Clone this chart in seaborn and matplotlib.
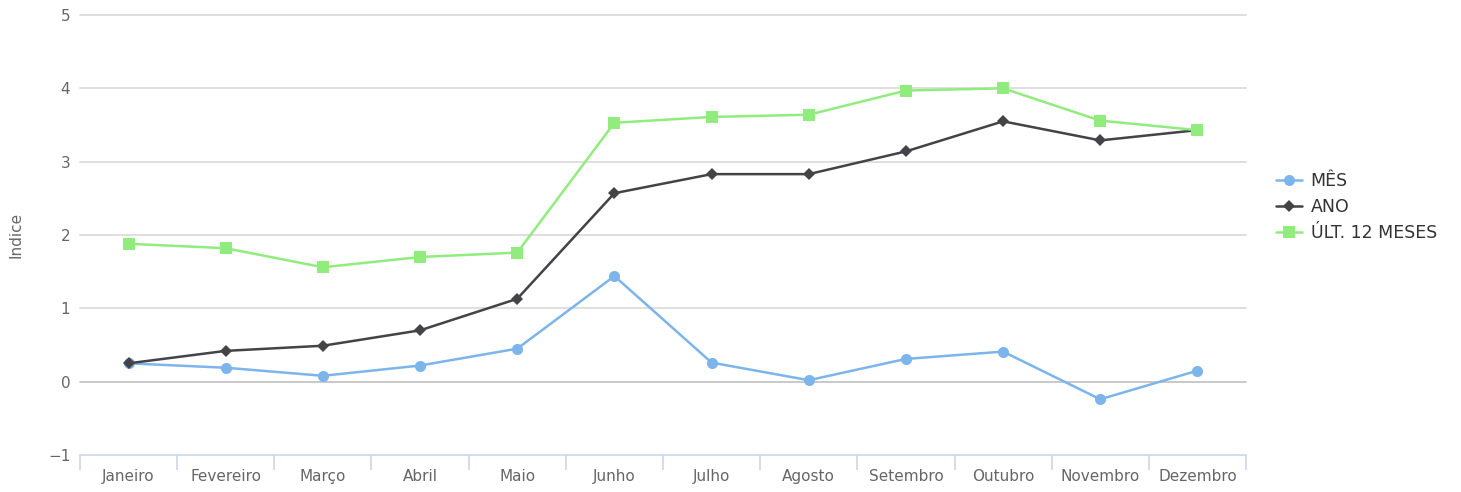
import matplotlib
matplotlib.use('Agg')
import matplotlib.pyplot as plt
import seaborn as sns
import numpy as np
import pandas as pd

# data
meses = ['Janeiro', 'Fevereiro', 'Março', 'Abril', 'Maio', 'Junho',
         'Julho', 'Agosto', 'Setembro', 'Outubro', 'Novembro', 'Dezembro']
mes = [0.25, 0.19, 0.08, 0.22, 0.45, 1.44, 0.26, 0.02, 0.31, 0.41, -0.24, 0.15]
ano = [0.25, 0.42, 0.49, 0.70, 1.13, 2.57, 2.83, 2.83, 3.14, 3.55, 3.29, 3.43]
ult12 = [1.88, 1.82, 1.56, 1.70, 1.76, 3.53, 3.61, 3.64, 3.97, 4.00, 3.56, 3.43]
series_names = ['MÊS', 'ANO', 'ÚLT. 12 MESES']
y_ticks = [-1, 0, 1, 2, 3, 4, 5]

sns.set_theme(style='white')
plt.rcParams['font.family'] = ['DejaVu Sans']

df = pd.DataFrame({
    'pos': np.tile(np.arange(len(meses)), 3),
    'mes': meses * 3,
    'valor': mes + ano + ult12,
    'serie': np.repeat(series_names, len(meses)),
})

fig = plt.figure(figsize=(14.61, 4.92), dpi=100)
ax = fig.add_axes([80 / 1461, 37 / 492, (1246 - 80) / 1461, (455 - 15) / 492])

# style per series (Highcharts look)
styles = {
    'MÊS': dict(color='#7cb5ec', marker='o', markersize=8),
    'ANO': dict(color='#434348', marker='D', markersize=6),
    'ÚLT. 12 MESES': dict(color='#90ed7d', marker='s', markersize=8.5),
}
for name in series_names:
    st = styles[name]
    sns.lineplot(data=df[df['serie'] == name], x='pos', y='valor', ax=ax,
                 color=st['color'], marker=st['marker'], markersize=st['markersize'],
                 markeredgewidth=0, linewidth=1.8, label=name, zorder=3)

# grid + zero line
ax.set_ylim(-1, 5)
ax.set_yticks(y_ticks)
ax.set_yticklabels(['\u22121' if t < 0 else str(t) for t in y_ticks])
for t in y_ticks[1:]:
    ax.axhline(t, color='#d9d9d9' if t != 0 else '#c0c0c0', lw=1.2, zorder=1, clip_on=False)

ax.set_xlim(-0.5, len(meses) - 0.5)
ax.set_xticks(np.arange(len(meses)))
ax.set_xticklabels(meses)
ax.set_xticks(np.arange(-0.5, len(meses)), minor=True)
ax.tick_params(axis='x', which='major', bottom=False, length=0, pad=10, labelsize=11, labelcolor='#666666')
ax.tick_params(axis='x', which='minor', bottom=True, length=11, width=1.2, color='#ccd6eb', direction='out')
ax.tick_params(axis='y', length=0, pad=7, labelsize=11, labelcolor='#666666')

for s in ['top', 'right', 'left']:
    ax.spines[s].set_visible(False)
ax.spines['bottom'].set_color('#ccd6eb')
ax.spines['bottom'].set_linewidth(1.2)

ax.set_xlabel('')
ax.set_ylabel('Indice', fontsize=11, color='#666666')
ax.yaxis.set_label_coords(-56 / 1166, 0.5)

handles, labels = ax.get_legend_handles_labels()
ax.legend_.remove()
leg = fig.legend(handles, labels, loc='center left', bbox_to_anchor=(1276 / 1461, 1 - 207 / 492),
                 frameon=False, fontsize=12.5, handlelength=1.5, handletextpad=0.5,
                 labelspacing=0.45, borderpad=0, borderaxespad=0)
for txt in leg.get_texts():
    txt.set_color('#333333')

fig.savefig('out.png', dpi=100)
